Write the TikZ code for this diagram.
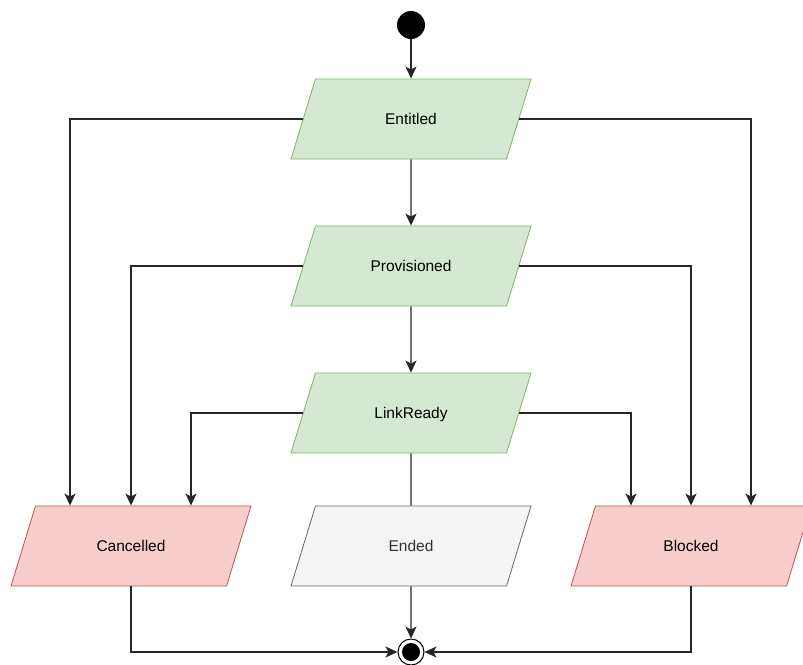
\documentclass[tikz,border=0pt]{standalone}
\usepackage{fontspec}
\setmainfont{Liberation Sans}
\usetikzlibrary{shapes.geometric,arrows.meta}
\definecolor{okfill}{HTML}{D5E8D4}
\definecolor{okline}{HTML}{82B366}
\definecolor{badfill}{HTML}{F8CECC}
\definecolor{badline}{HTML}{B85450}
\definecolor{endfill}{HTML}{F5F5F5}
\definecolor{endline}{HTML}{666666}
\definecolor{endtext}{HTML}{333333}
\begin{document}
\begin{tikzpicture}[x=1pt, y=-1pt,
    state/.style={trapezium, trapezium left angle=73, trapezium right angle=107,
      trapezium stretches body, minimum width=240pt, text height=45.5pt, text depth=34.5pt,
      inner sep=0pt, draw, line width=0.8pt, font=\fontsize{15.5}{18}\selectfont},
    okstate/.style={state, fill=okfill, draw=okline},
    badstate/.style={state, fill=badfill, draw=badline},
    endstate/.style={state, fill=endfill, draw=endline, text=endtext},
    link/.style={line width=1.3pt, draw=black!85},
    flow/.style={link, -{Stealth[length=12pt, width=11pt, inset=3pt]}},
    startdot/.style={circle, fill=black, minimum size=28pt, inner sep=0pt},
    stopdot/.style={circle, draw=black, fill=white, line width=1pt, minimum size=26pt, inner sep=0pt,
      path picture={\fill[black] (path picture bounding box.center) circle (9pt);}}]
  \useasboundingbox (0,0) rectangle (803,664);

  % states
  \node[startdot] (start) at (411,25) {};
  \node[okstate] (entitled) at (411,119) {Entitled};
  \node[okstate] (provisioned) at (411,266) {Provisioned};
  \node[okstate] (linkready) at (411,413) {LinkReady};
  \node[badstate] (cancelled) at (131,546) {Cancelled};
  \node[endstate] (ended) at (411,546) {Ended};
  \node[badstate] (blocked) at (691,546) {Blocked};
  \node[stopdot] (stop) at (411,652) {};

  % main line
  \draw[flow] (start) -- (entitled);
  \draw[flow] (entitled) -- (provisioned);
  \draw[flow] (provisioned) -- (linkready);
  \draw[link] (linkready) -- (ended);

  % side branches
  \draw[flow] (entitled.west) -| ([xshift=-61pt]cancelled.north);
  \draw[flow] (provisioned.west) -| (cancelled.north);
  \draw[flow] (linkready.west) -| ([xshift=60pt]cancelled.north);
  \draw[flow] (entitled.east) -| ([xshift=60pt]blocked.north);
  \draw[flow] (provisioned.east) -| (blocked.north);
  \draw[flow] (linkready.east) -| ([xshift=-60pt]blocked.north);

  % to the end
  \draw[flow] (cancelled.south) |- (stop.west);
  \draw[flow] (ended.south) -- (stop.north);
  \draw[flow] (blocked.south) |- (stop.east);
\end{tikzpicture}
\end{document}
